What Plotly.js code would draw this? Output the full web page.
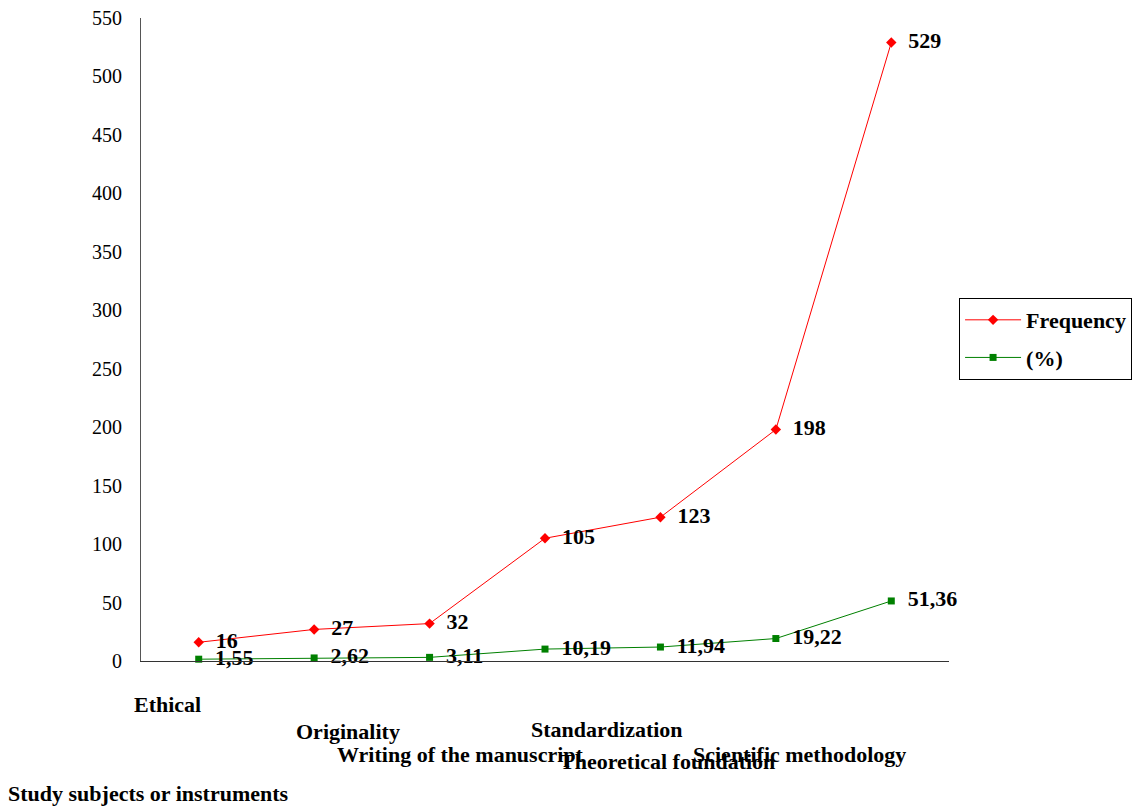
<!DOCTYPE html>
<html>
<head>
<meta charset="utf-8">
<script src="https://cdn.plot.ly/plotly-3.0.1.min.js"></script>
<style>html,body{margin:0;padding:0;background:#fff;}#chart{width:1135px;height:807px;}</style>
</head>
<body>
<div id="chart"></div>
<script>
// Data
var categories = ["Ethical", "Originality", "Writing of the manuscript", "Standardization", "Theoretical foundation", "Scientific methodology", "Study subjects or instruments"];
var frequency = [16, 27, 32, 105, 123, 198, 529];
var percent = [1.55, 2.62, 3.11, 10.19, 11.94, 19.22, 51.36];
var yTicks = [0, 50, 100, 150, 200, 250, 300, 350, 400, 450, 500, 550];

// Category label placement (paper coords, reproducing the staggered labels of the original)
var labelPos = [
  {x: 0.0322, y: -0.068},
  {x: 0.2562, y: -0.110},
  {x: 0.396, y: -0.146},
  {x: 0.5767, y: -0.107},
  {x: 0.651, y: -0.156},
  {x: 0.8144, y: -0.146},
  {x: 0.0087, y: -0.206}
];

var FONT = "'Liberation Serif', 'Times New Roman', Times, serif";
var idx = categories.map(function (c, i) { return i; });

var traceFreq = {
  x: idx, y: frequency, name: "Frequency", type: "scatter", mode: "lines+markers+text",
  legendgroup: "a",
  line: {color: "#ff0000", width: 1},
  marker: {symbol: "diamond", size: 8, color: "#ff0000"},
  text: frequency.map(function (v) { return "  " + v; }),
  textposition: "middle right",
  textfont: {family: FONT, size: 22, color: "#000", weight: "bold"},
  cliponaxis: false, hoverinfo: "y"
};
var tracePct = {
  x: idx, y: percent, name: "(%)", type: "scatter", mode: "lines+markers+text",
  legendgroup: "b",
  line: {color: "#008000", width: 1},
  marker: {symbol: "square", size: 7, color: "#008000"},
  text: percent.map(function (v) { return "  " + v.toFixed(2).replace(".", ","); }),
  textposition: "middle right",
  textfont: {family: FONT, size: 22, color: "#000", weight: "bold"},
  cliponaxis: false, hoverinfo: "y"
};

var annotations = categories.map(function (c, i) {
  return {
    text: "<b>" + c + "</b>", xref: "paper", yref: "paper",
    x: labelPos[i].x, y: labelPos[i].y, xanchor: "center", yanchor: "middle",
    showarrow: false, font: {family: FONT, size: 22, color: "#000"}
  };
});

var layout = {
  width: 1135, height: 807,
  margin: {l: 141, r: 186, t: 18, b: 146, pad: 0, autoexpand: false},
  paper_bgcolor: "#fff", plot_bgcolor: "#fff",
  font: {family: FONT},
  showlegend: true,
  legend: {
    xref: "container", yref: "container",
    x: 0.845, y: 0.6307, xanchor: "left", yanchor: "top",
    bordercolor: "#000", borderwidth: 1, bgcolor: "#fff",
    font: {family: FONT, size: 22, color: "#000", weight: "bold"},
    itemwidth: 56, tracegroupgap: 6
  },
  xaxis: {
    range: [-0.5, 6.5], showticklabels: false, showgrid: false, zeroline: false,
    showline: true, linecolor: "#333", linewidth: 1, ticks: "", fixedrange: true
  },
  yaxis: {
    range: [0, 550], tickvals: yTicks, ticktext: yTicks.map(String),
    showgrid: false, zeroline: false, showline: true, linecolor: "#555", linewidth: 1,
    ticks: "", ticklabelstandoff: 14,
    tickfont: {family: FONT, size: 20, color: "#000"}
  },
  annotations: annotations
};

Plotly.newPlot("chart", [traceFreq, tracePct], layout, {displayModeBar: false, staticPlot: true});
</script>
</body>
</html>
